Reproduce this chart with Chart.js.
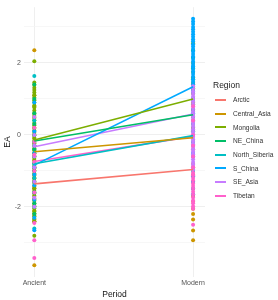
<!DOCTYPE html>
<html><head><meta charset="utf-8">
<script src="https://cdn.jsdelivr.net/npm/chart.js@4"></script>
<style>
html,body{margin:0;padding:0;background:#fff;}
#wrap{position:relative;width:278px;height:300px;font-family:"Liberation Sans",Arial,sans-serif;}
#legend{position:absolute;left:213px;top:79px;}
#legend .t{font-size:8.5px;color:#222;height:13px;line-height:13px;margin-bottom:1px;}
#legend .r{height:13.7px;display:flex;align-items:center;font-size:6.6px;color:#333;}
#legend .k{display:inline-block;flex:none;width:11px;height:2px;margin:0 7px 0 2px;}
</style></head>
<body><div id="wrap"><canvas id="c" width="278" height="300"></canvas><div id="legend"></div></div>
<script>
const regions = ["Arctic","Central_Asia","Mongolia","NE_China","North_Siberia","S_China","SE_Asia","Tibetan"];
const colors = ["#F8766D","#CD9600","#7CAE00","#00BE67","#00BFC4","#00A9FF","#C77CFF","#FF61CC"];
const periods = ["Ancient","Modern"];
const yTicks = [-3,-2,-1,0,1,2,3];
// region means per period
const meanAncient = [-1.36,-0.47,-0.14,-0.17,-0.80,-0.84,-0.33,-0.74];
const meanModern  = [-0.96,-0.08,1.00,0.56,-0.02,1.34,0.58,-0.04];
// individual values, Ancient
const ancArctic = [-0.9,-1.1,-1.3,-1.5,-1.7,-1.95,-2.2,-2.4,-1.2,-1.45];
const ancCentral = [2.35,1.1,0.8,0.5,0.2,-0.1,-0.3,-0.5,-0.7,-0.9,-1.2,-1.5,-1.8,-2.1,-2.35,-3.62,0.0,-0.6,-2.25,-2.42];
const ancMongolia = [2.05,1.46,1.39,1.31,1.25,1.18,1.1,1.04,0.96,0.9,0.82,0.76,0.68,0.61,0.55,0.47,0.41,0.33,0.27,0.19,0.12,0.06,-0.02,-0.08,-0.16,-0.23,-0.29,-0.37,-0.43,-0.51,-0.58,-0.64,-0.72,-0.78,-0.86,-0.93,-0.99,-1.07,-1.13,-1.21,-1.28,-1.34,-1.42,-1.48,-1.56,-1.63,-1.69,-1.77,-1.83,-1.91,-1.98,-2.04,-2.12,-2.18,-2.26,-2.33,-2.4,-2.8];
const ancNEChina = [1.4,1.0,0.6,0.3,0.0,-0.2,-0.4,-0.6,-0.8,-1.0,-1.3,-1.6,-1.9,-2.2];
const ancNSiberia = [1.64,0.4,-0.3,-0.8,-1.2,-1.6,-2.0,-2.6];
const ancSChina = [0.9,0.1,-0.5,-0.9,-1.1,-1.4,-1.8,-2.3,-2.65];
const ancSEAsia = [0.5,0.0,-0.3,-0.6,-0.9,-1.3,-1.75,-2.0];
const ancTibetan = [0.2,-0.2,-0.55,-0.75,-1.0,-1.6,-2.45,-2.93,-3.42];
// individual values, Modern
const modArctic = [0.2,-0.4,-0.8,-1.1,-1.3,-1.5,-1.85];
const modCentral = [1.4,0.9,0.3,-0.3,-0.9,-1.7,-2.05,-2.2,-2.35,-2.66,-2.93];
const modMongolia = [2.55,2.0,1.75,1.6,1.45,1.3,1.15,1.0,0.85,0.7,0.5,0.2,-0.2];
const modNEChina = [2.35,2.15,1.85,1.55,1.25,1.0,0.7,0.4,0.1];
const modNSiberia = [1.9,1.0,0.3,-0.2,-0.6,-1.0];
const modSChina = [3.23,3.15,3.08,3.0,2.94,2.87,2.8,2.73,2.66,2.6,2.52,2.46,2.39,2.32,2.25,2.18,2.11,2.04,1.97,1.9,1.83,1.76,1.69,1.62,1.55,1.48,1.41,1.2,0.6,-0.5,-1.15,-1.3,-1.5,-1.65];
const modSEAsia = [1.35,1.28,1.21,1.14,1.07,1.0,0.93,0.86,0.79,0.72,0.65,0.58,0.51,0.44,0.37,0.3,0.23,0.16,0.09,0.02,-0.05,-0.12,-0.19,-0.26,-0.33,-0.4,-0.47,-0.54,-0.61,-0.68,-0.75,-0.82,-0.89,-0.96];
const modTibetan = [0.8,0.4,0.0,-0.3,-0.6,-0.9,-1.05,-1.12,-1.2,-1.27,-1.35,-1.42,-1.5,-1.58,-1.66,-1.74,-1.82,-1.9,-1.98,-2.05,-2.5];

const ancient = [ancArctic,ancCentral,ancMongolia,ancNEChina,ancNSiberia,ancSChina,ancSEAsia,ancTibetan];
const modern = [modArctic,modCentral,modMongolia,modNEChina,modNSiberia,modSChina,modSEAsia,modTibetan];

const datasets = [];
regions.forEach((r,i)=>{
  datasets.push({type:'line',label:r,data:[{x:0,y:meanAncient[i]},{x:1,y:meanModern[i]}],
    borderColor:colors[i],borderWidth:1.6,pointRadius:0,fill:false,order:1});
});
regions.forEach((r,i)=>{
  const pts = ancient[i].map(v=>({x:0,y:v})).concat(modern[i].map(v=>({x:1,y:v})));
  datasets.push({type:'scatter',label:r+'_pts',data:pts,backgroundColor:colors[i],borderWidth:0,
    pointRadius:2,order:2+(regions.length-i)});
});

const lg=document.getElementById('legend');
lg.innerHTML='<div class="t">Region</div>'+regions.map((r,i)=>'<div class="r"><span class="k" style="background:'+colors[i]+'"></span>'+r+'</div>').join('');

new Chart(document.getElementById('c'),{
  data:{datasets},
  options:{responsive:false,animation:false,
    layout:{padding:{top:1,right:73,left:0,bottom:0}},
    plugins:{legend:{display:false},tooltip:{enabled:false}},
    scales:{
      x:{type:'linear',min:-0.065,max:1.075,
        afterBuildTicks:s=>{s.ticks=[0,1].map(v=>({value:v}));},
        afterFit:s=>{s.height=23;},
        ticks:{callback:v=>periods[v],color:'#555',font:{size:7,family:'Liberation Sans'},padding:2},
        grid:{color:'#EBEBEB',lineWidth:0.8,drawTicks:false},border:{display:false},
        title:{display:true,text:'Period',color:'#111',font:{size:8.5,family:'Liberation Sans'},padding:{top:0,bottom:0}}},
      y:{type:'linear',min:-3.95,max:3.55,
        afterBuildTicks:s=>{s.ticks=yTicks.map(v=>({value:v}));},
        afterFit:s=>{s.width=24;},
        ticks:{callback:v=>(v%2===0?String(v):''),color:'#555',font:{size:7,family:'Liberation Sans'},padding:3},
        grid:{color:c=>(c.tick&&c.tick.value%2===0?'#EBEBEB':'#F5F5F5'),lineWidth:0.8,drawTicks:false},border:{display:false},
        title:{display:true,text:'EA',color:'#111',font:{size:8.5,family:'Liberation Sans'},padding:{top:3,bottom:0}}}
    }}
});
</script></body></html>
